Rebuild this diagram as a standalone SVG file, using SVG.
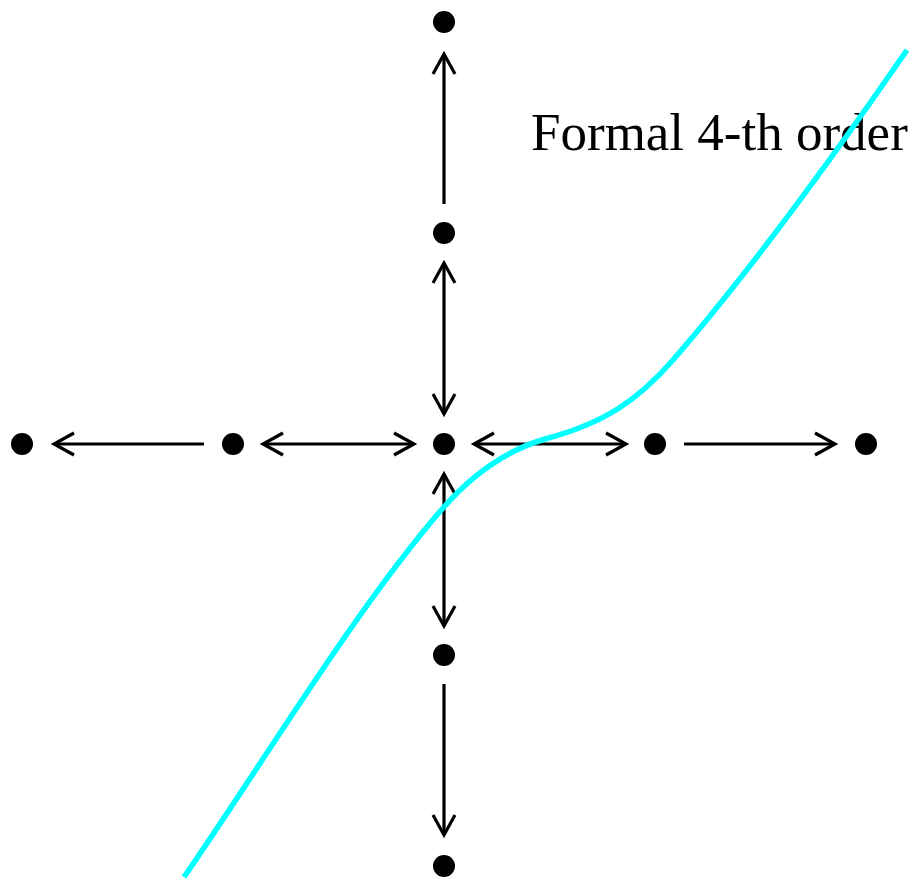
<svg xmlns="http://www.w3.org/2000/svg" width="914" height="880" viewBox="0 0 914 880">
<style>
.dot{fill:#000}
.conn{stroke:#000;stroke-width:3.2;fill:none}
.lbl{font-family:"Liberation Serif","Times New Roman",serif;font-size:53px;fill:#000}
.curve{stroke:#00FFFF;stroke-width:5.5;fill:none}
</style>
<defs>
<marker id="ah" markerUnits="userSpaceOnUse" markerWidth="30" markerHeight="30" viewBox="-25 -15 30 30" refX="0" refY="0" orient="auto-start-reverse">
<path d="M -20 -11 L 0 0 L -20 11" stroke="#000" stroke-width="3.2" fill="none"/>
</marker>
</defs>
<rect width="914" height="880" fill="#fff"/>
<g id="label"><text class="lbl" x="531" y="150">Formal 4-th order</text></g>
<g id="n-left2"><circle class="dot" cx="22" cy="444" r="11"/></g>
<g id="n-left1"><circle class="dot" cx="233" cy="444" r="11"/></g>
<g id="n-center"><circle class="dot" cx="444" cy="444" r="11"/></g>
<g id="n-right1"><circle class="dot" cx="655" cy="444" r="11"/></g>
<g id="n-right2"><circle class="dot" cx="866" cy="444" r="11"/></g>
<g id="n-top2"><circle class="dot" cx="444" cy="22" r="11"/></g>
<g id="n-top1"><circle class="dot" cx="444" cy="233" r="11"/></g>
<g id="n-bottom1"><circle class="dot" cx="444" cy="655" r="11"/></g>
<g id="n-bottom2"><circle class="dot" cx="444" cy="866" r="11"/></g>
<g id="connectors">
<line class="conn" x1="204" y1="444" x2="54" y2="444" marker-end="url(#ah)"/>
<line class="conn" x1="263" y1="444" x2="414" y2="444" marker-start="url(#ah)" marker-end="url(#ah)"/>
<line class="conn" x1="474" y1="444" x2="626" y2="444" marker-start="url(#ah)" marker-end="url(#ah)"/>
<line class="conn" x1="684" y1="444" x2="835" y2="444" marker-end="url(#ah)"/>
<line class="conn" x1="444" y1="204" x2="444" y2="54" marker-end="url(#ah)"/>
<line class="conn" x1="444" y1="263" x2="444" y2="414" marker-start="url(#ah)" marker-end="url(#ah)"/>
<line class="conn" x1="444" y1="474" x2="444" y2="626" marker-start="url(#ah)" marker-end="url(#ah)"/>
<line class="conn" x1="444" y1="684" x2="444" y2="835" marker-end="url(#ah)"/>
</g>
<g id="curve">
<path class="curve" d="M 184 877 C 270 752 357 607 443 508 C 477 469 511 449 545 439 C 605 423 638 400 673 360 C 751 270 829 163 907 50"/>
</g>
</svg>
